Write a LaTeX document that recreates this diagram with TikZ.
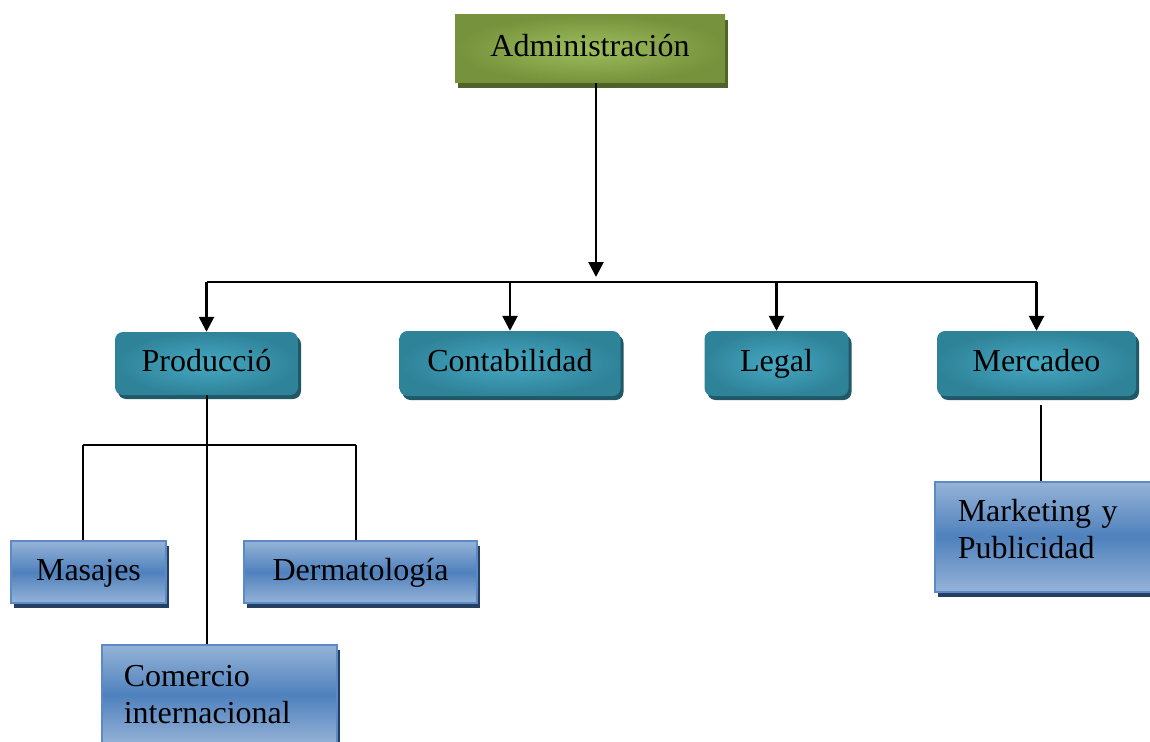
\documentclass[tikz,border=0pt]{standalone}
\usepackage{fontspec}
\setmainfont{Liberation Serif}
\usetikzlibrary{arrows.meta,shadows}
\definecolor{gOut}{HTML}{76923C}
\definecolor{gIn}{HTML}{9DBD5C}
\definecolor{gSh}{HTML}{4F6228}
\definecolor{tOut}{HTML}{2F8399}
\definecolor{tIn}{HTML}{45A9C2}
\definecolor{tSh}{HTML}{205867}
\definecolor{bLight}{HTML}{95B3D7}
\definecolor{bMid}{HTML}{4F81BD}
\definecolor{bEdge}{HTML}{5B8AC6}
\definecolor{bSh}{HTML}{243F60}
\tikzset{
  txt/.style={font=\fontsize{32}{37}\selectfont, text=black},
  one/.style={text height=22pt, text depth=6pt},
  greenbox/.style={txt, one, inner color=gIn, outer color=gOut,
    drop shadow={shadow xshift=3pt, shadow yshift=-5pt, fill=gSh, opacity=1}},
  tealbox/.style={txt, one, rounded corners=8pt, inner color=tIn, outer color=tOut,
    drop shadow={shadow xshift=3pt, shadow yshift=-4pt, fill=tSh, opacity=1}},
  bluebox/.style={txt, draw=bEdge, line width=1.5pt, top color=bLight, bottom color=bLight, middle color=bMid,
    drop shadow={shadow xshift=3pt, shadow yshift=-5pt, fill=bSh, opacity=1}},
  arr/.style={line width=2.6pt, -{Triangle[width=15pt,length=15pt]}},
  conn/.style={line width=2.6pt},
  thin/.style={line width=2pt},
}
\begin{document}
\begin{tikzpicture}[x=1pt,y=-1pt]
\useasboundingbox (0,0) rectangle (1150,741);
\clip (0,0) rectangle (1150,741);
\fill[white] (0,0) rectangle (1150,741);

\node[greenbox, minimum width=270pt, minimum height=68pt] (adm) at (590,49) {Administración};

\node[tealbox, minimum width=183pt, minimum height=63pt] (prod) at (206.5,363.5) {Producció};
\node[tealbox, minimum width=221pt, minimum height=65pt] (cont) at (510,363.5) {Contabilidad};
\node[tealbox, minimum width=144pt, minimum height=65pt] (leg) at (776.5,363.5) {Legal};
\node[tealbox, minimum width=199pt, minimum height=65pt] (merc) at (1036.5,363.5) {Mercadeo};

\node[bluebox, one, minimum width=155pt, minimum height=62pt] (mas) at (88.5,572) {Masajes};
\node[bluebox, one, minimum width=233pt, minimum height=62pt] (der) at (360.5,572) {Dermatología};
\node[bluebox, anchor=north west, minimum width=235pt, minimum height=100pt,
      text width=191pt, inner xsep=22pt, align=left] (com) at (101,644) {Comercio\\internacional};
\node[bluebox, anchor=north west, minimum width=226pt, minimum height=110pt,
      text width=180pt, inner xsep=23pt, align=left] (mkt) at (934,481) {Marketing y\\Publicidad\\[-22pt]\mbox{}};

% main tree
\coordinate (bus) at (596,282);
\draw[arr] (adm.south -| bus) -- ([yshift=5pt]bus);
\draw[conn] (prod.north |- bus) -- (merc.north |- bus);
\draw[arr] (prod.north |- bus) -- (prod.north);
\draw[arr] (cont.north |- bus) -- (cont.north);
\draw[arr] (leg.north |- bus) -- (leg.north);
\draw[arr] (merc.north |- bus) -- (merc.north);

% production subtree
\coordinate (sl) at (83,445);
\coordinate (sr) at (356,445);
\draw[thin] (prod.south) -- (prod.south |- com.north);
\draw[thin] (sl) -- (sr);
\draw[thin] (sl) -- (sl |- mas.north);
\draw[thin] (sr) -- (sr |- der.north);

% mercadeo subtree
\coordinate (mk) at (1041,405);
\draw[thin] (mk) -- (mk |- mkt.north);
\end{tikzpicture}
\end{document}
